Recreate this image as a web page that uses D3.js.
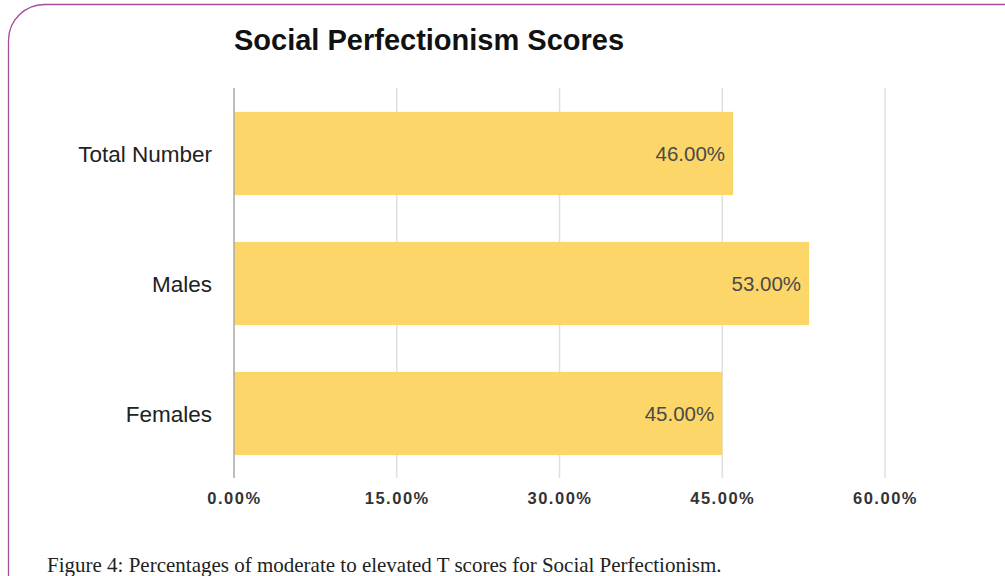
<!DOCTYPE html>
<html><head><meta charset="utf-8">
<script src="https://cdn.jsdelivr.net/npm/d3@7"></script>
<style>body{margin:0;background:#fff;overflow:hidden}</style>
</head><body>
<script>
const categories = ["Total Number", "Males", "Females"];
const values = [46, 53, 45];
const tickValues = [0, 15, 30, 45, 60];
const title = "Social Perfectionism Scores";
const caption = "Figure 4: Percentages of moderate to elevated T scores for Social Perfectionism.";

const W = 1005, H = 576;
const svg = d3.select("body").append("svg").attr("width", W).attr("height", H);

// border
svg.append("rect").attr("x", 8.5).attr("y", 4.5).attr("width", 1040).attr("height", 640)
  .attr("rx", 36).attr("ry", 36).attr("fill", "none").attr("stroke", "#a24d9e").attr("stroke-width", 1.3);

const x = d3.scaleLinear().domain([0, 60]).range([234, 885]);
const y = d3.scaleBand().domain(categories).range([88.5, 478.5]).paddingInner(0.36).paddingOuter(0.18);

// gridlines
svg.append("g").selectAll("line").data(tickValues.slice(1)).join("line")
  .attr("x1", d => x(d)).attr("x2", d => x(d)).attr("y1", 88).attr("y2", 478)
  .attr("stroke", "#e0e0e0").attr("stroke-width", 1.5);

// bars
svg.append("g").selectAll("rect").data(values).join("rect")
  .attr("x", x(0)).attr("y", (d, i) => y(categories[i]))
  .attr("width", d => x(d) - x(0)).attr("height", y.bandwidth())
  .attr("fill", "#fcd668");

// zero axis line
svg.append("line").attr("x1", x(0)).attr("x2", x(0)).attr("y1", 88).attr("y2", 478)
  .attr("stroke", "#a9a9a9").attr("stroke-width", 1.5);

// value labels
svg.append("g").selectAll("text").data(values).join("text")
  .attr("x", d => x(d) - 8).attr("y", (d, i) => y(categories[i]) + y.bandwidth() / 2)
  .attr("dy", "0.36em").attr("text-anchor", "end")
  .style("font-family", "Liberation Sans, Arial, sans-serif").style("font-size", "20.5px")
  .attr("fill", "#4a4a4a").text(d => d.toFixed(2) + "%");

// category axis labels
svg.append("g").selectAll("text").data(categories).join("text")
  .attr("x", 212).attr("y", d => y(d) + y.bandwidth() / 2).attr("dy", "0.36em")
  .attr("text-anchor", "end").style("font-family", "Liberation Sans, Arial, sans-serif")
  .style("font-size", "22.5px").attr("fill", "#222").text(d => d);

// x axis
const xAxis = d3.axisBottom(x).tickValues(tickValues).tickSize(0).tickPadding(14)
  .tickFormat(d => d.toFixed(2) + "%");
const gx = svg.append("g").attr("transform", "translate(0,478)").call(xAxis);
gx.select(".domain").remove();
gx.selectAll("text").style("font-family", "Liberation Sans, Arial, sans-serif")
  .style("font-size", "16.5px").style("font-weight", "bold").style("letter-spacing", "1.5px")
  .attr("fill", "#333");

// title
svg.append("text").attr("x", 234).attr("y", 50)
  .style("font-family", "Liberation Sans, Arial, sans-serif").style("font-size", "29px")
  .style("font-weight", "bold").attr("fill", "#111").text(title);

// caption
svg.append("text").attr("x", 47).attr("y", 572)
  .style("font-family", "Liberation Serif, Times New Roman, serif").style("font-size", "21px")
  .attr("fill", "#222").text(caption);
</script>
</body></html>
